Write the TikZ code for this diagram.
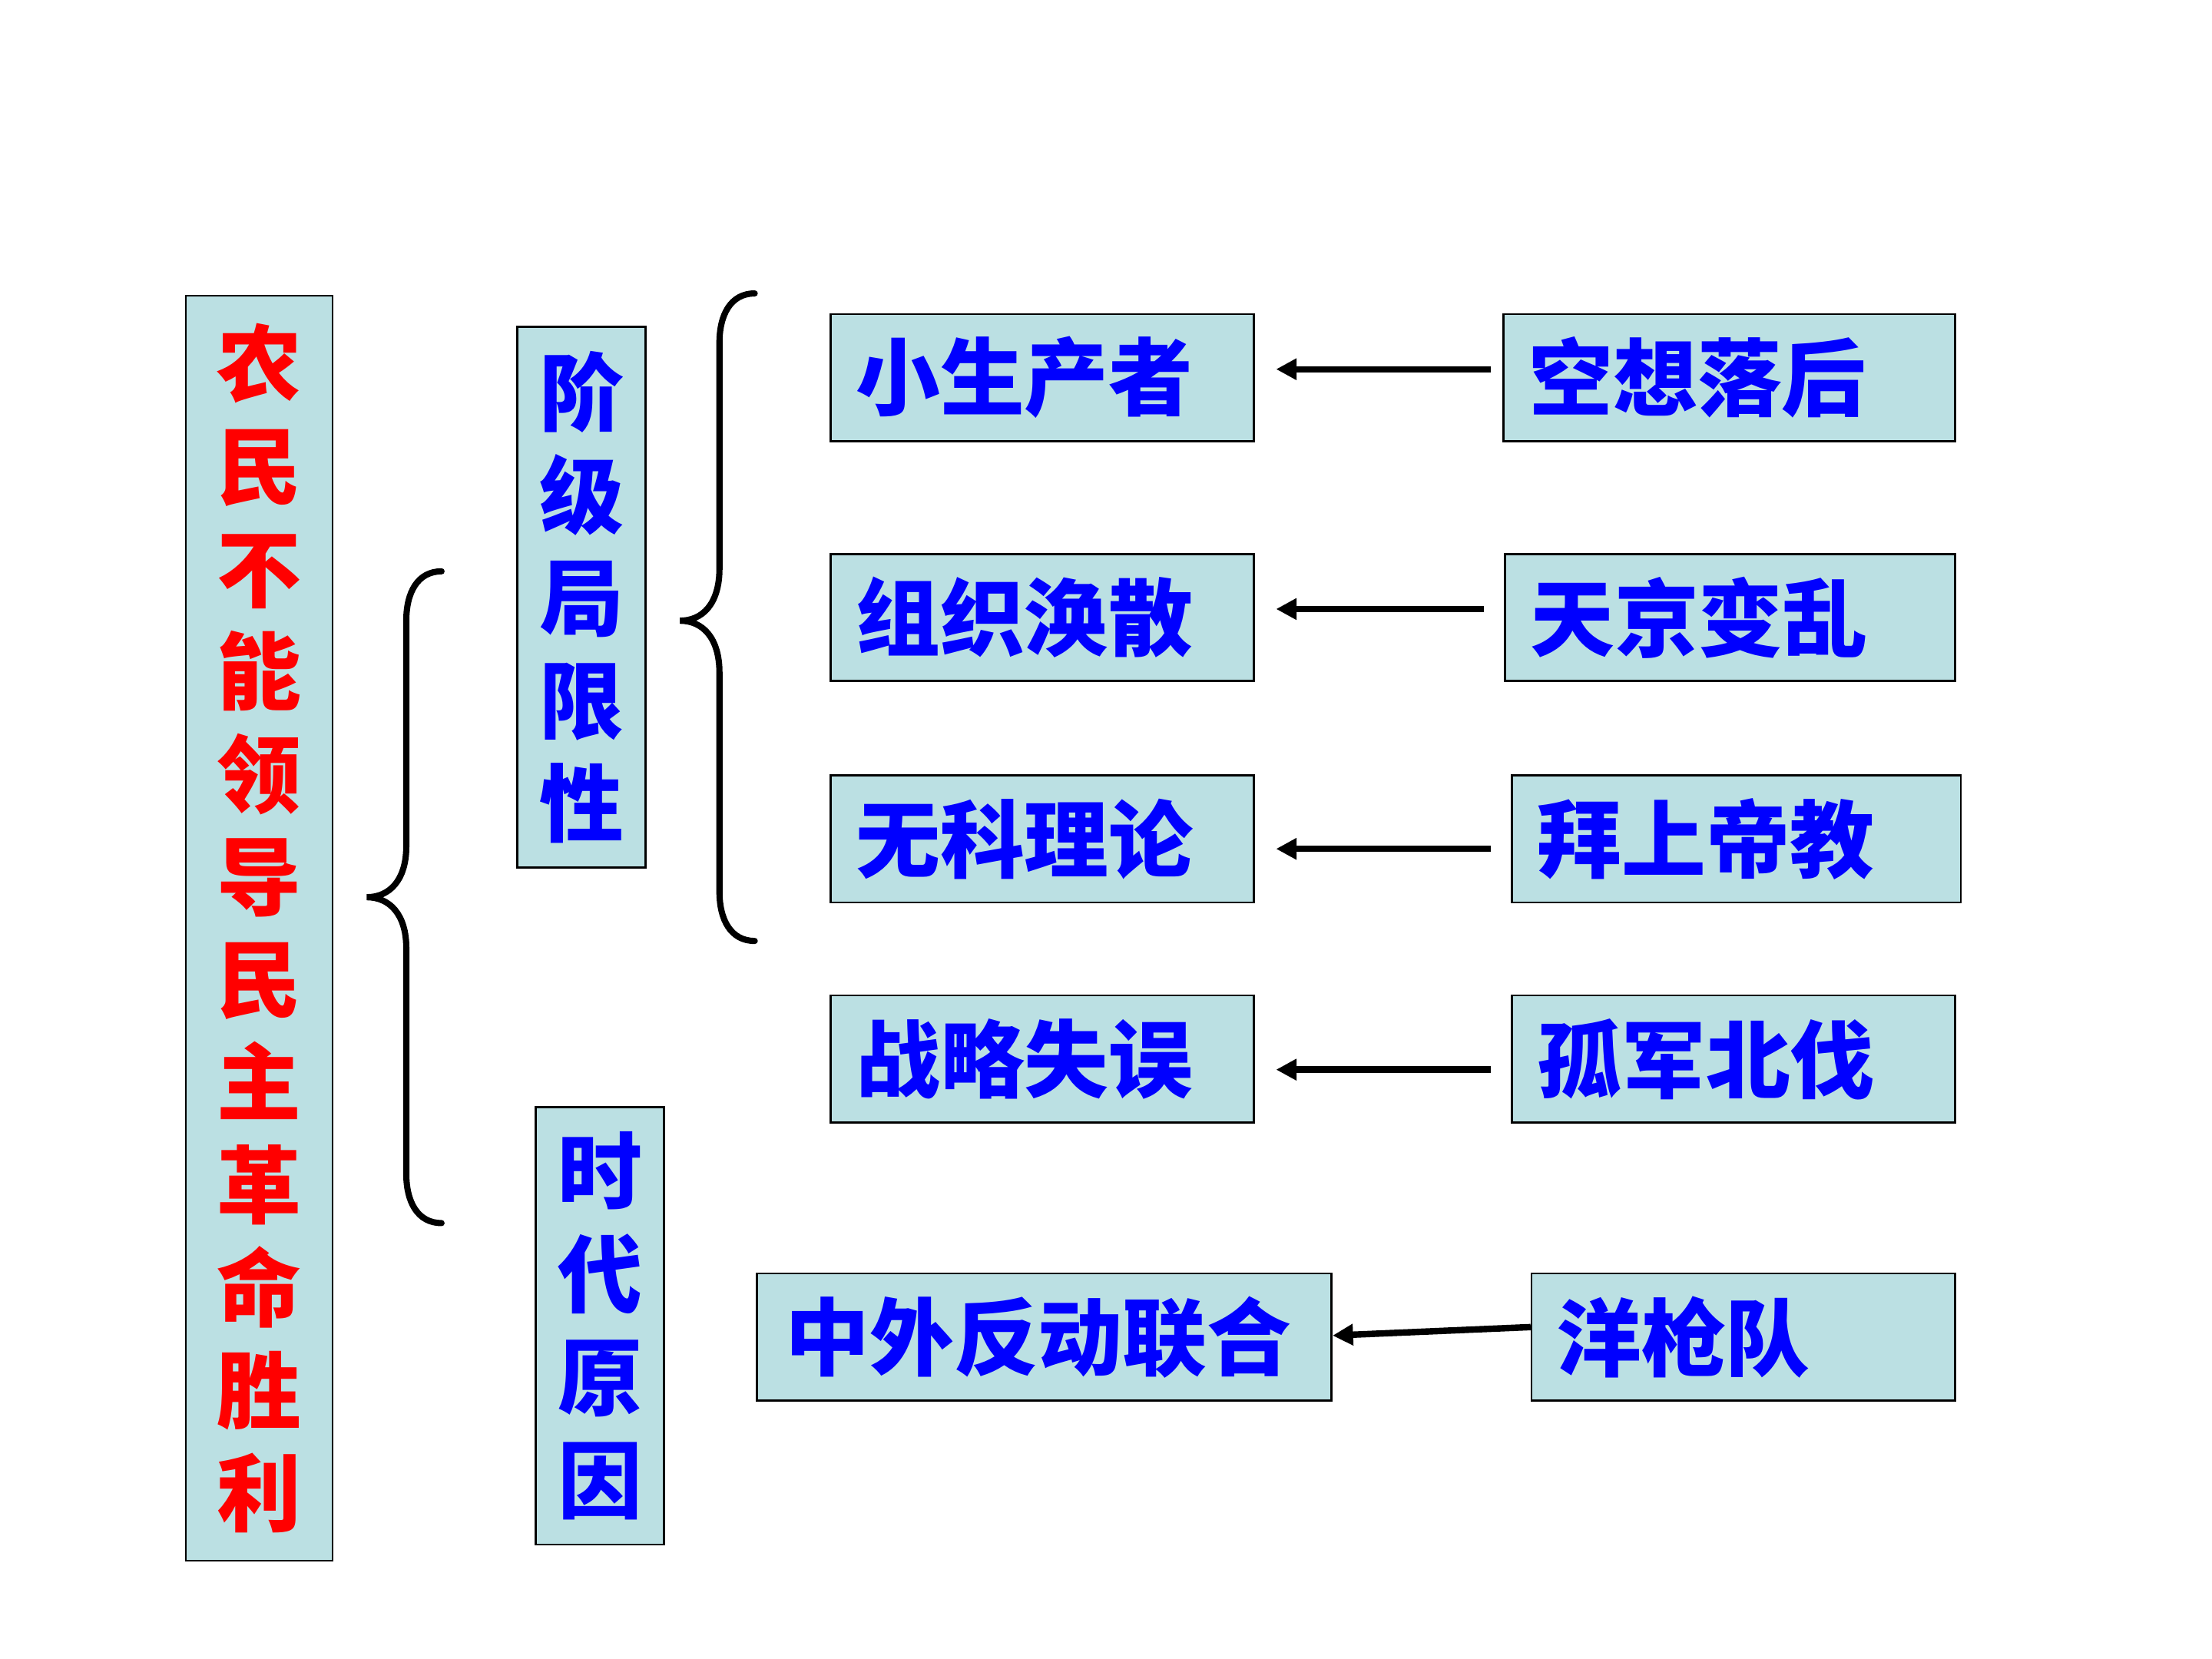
\documentclass[tikz,border=0pt]{standalone}
\usepackage{fontspec}
\newfontfamily\cjk{Noto Sans CJK SC}
\usepackage{tikz}
\usetikzlibrary{arrows.meta}
\definecolor{kastenblau}{RGB}{187,224,227}
\tikzset{
  kasten/.style={draw=black, line width=0.4pt, fill=kastenblau, anchor=north west,
    font=\cjk\bfseries\fontsize{17}{20.7}\selectfont, text=blue,
    inner xsep=0.18cm, inner ysep=0pt, minimum height=0.9cm, align=left},
  saeule/.style={kasten, inner sep=0pt, align=center},
  pfeil/.style={line width=1.3pt, -{Triangle[length=0.145cm, width=0.145cm]}},
  klammer/.style={line width=1.25pt, line cap=round},
}
\begin{document}
\begin{tikzpicture}[x=0.01cm, y=-0.01cm]
  \useasboundingbox (0,0) rectangle (1568,1176);

  % ---- Hauptaussage (links) ----
  \node[saeule, text=red, minimum width=1.04cm, minimum height=8.96cm] (haupt) at (131,209)
    {农\\民\\不\\能\\领\\导\\民\\主\\革\\命\\胜\\利};
  \node[saeule, minimum width=0.91cm, minimum height=3.83cm] (klasse) at (366,231)
    {阶\\级\\局\\限\\性};
  \node[saeule, minimum width=0.91cm, minimum height=3.10cm] (zeit) at (379,784)
    {时\\代\\原\\因};

  % ---- Klammern ----
  \draw[klammer] (313,405) .. controls (296,405) and (288,420) .. (288,440) -- (288,600)
    .. controls (288,624) and (276,636) .. (260,636)
    .. controls (276,636) and (288,648) .. (288,672) -- (288,832)
    .. controls (288,852) and (296,867) .. (313,867);
  \draw[klammer] (535,208) .. controls (518,208) and (510,223) .. (510,243) -- (510,403)
    .. controls (510,428) and (498,440) .. (482,440)
    .. controls (498,440) and (510,452) .. (510,477) -- (510,632)
    .. controls (510,652) and (518,667) .. (535,667);

  % ---- Mittlere Spalte ----
  \node[kasten, text width=2.64cm, inner xsep=0.18cm] (m1) at (588,222) {小生产者};
  \node[kasten, text width=2.64cm, inner xsep=0.18cm] (m2) at (588,392) {组织涣散};
  \node[kasten, text width=2.64cm, inner xsep=0.18cm] (m3) at (588,549) {无科理论};
  \node[kasten, text width=2.64cm, inner xsep=0.18cm] (m4) at (588,705) {战略失误};
  \node[kasten, text width=3.67cm, inner xsep=0.20cm] (m5) at (536,902) {中外反动联合};

  % ---- Rechte Spalte ----
  \node[kasten, text width=2.84cm] (r1) at (1065,222) {空想落后};
  \node[kasten, text width=2.83cm] (r2) at (1066,392) {天京变乱};
  \node[kasten, text width=2.82cm] (r3) at (1071,549) {拜上帝教};
  \node[kasten, text width=2.78cm] (r4) at (1071,705) {孤军北伐};
  \node[kasten, text width=2.64cm] (r5) at (1085,902) {洋枪队};

  % ---- Pfeile ----
  \foreach \i/\dy/\s in {1/0.06/0.08, 2/0.06/0.14, 3/-0.07/0.14, 4/-0.075/0.14}
    \draw[pfeil, shorten <=\s cm, shorten >=0.15cm]
      ([yshift=\dy cm]r\i.west) -- ([yshift=\dy cm]m\i.east);
  \draw[pfeil] ([yshift=0.07cm]r5.west) -- ([yshift=0.01cm]m5.east);
\end{tikzpicture}
\end{document}
